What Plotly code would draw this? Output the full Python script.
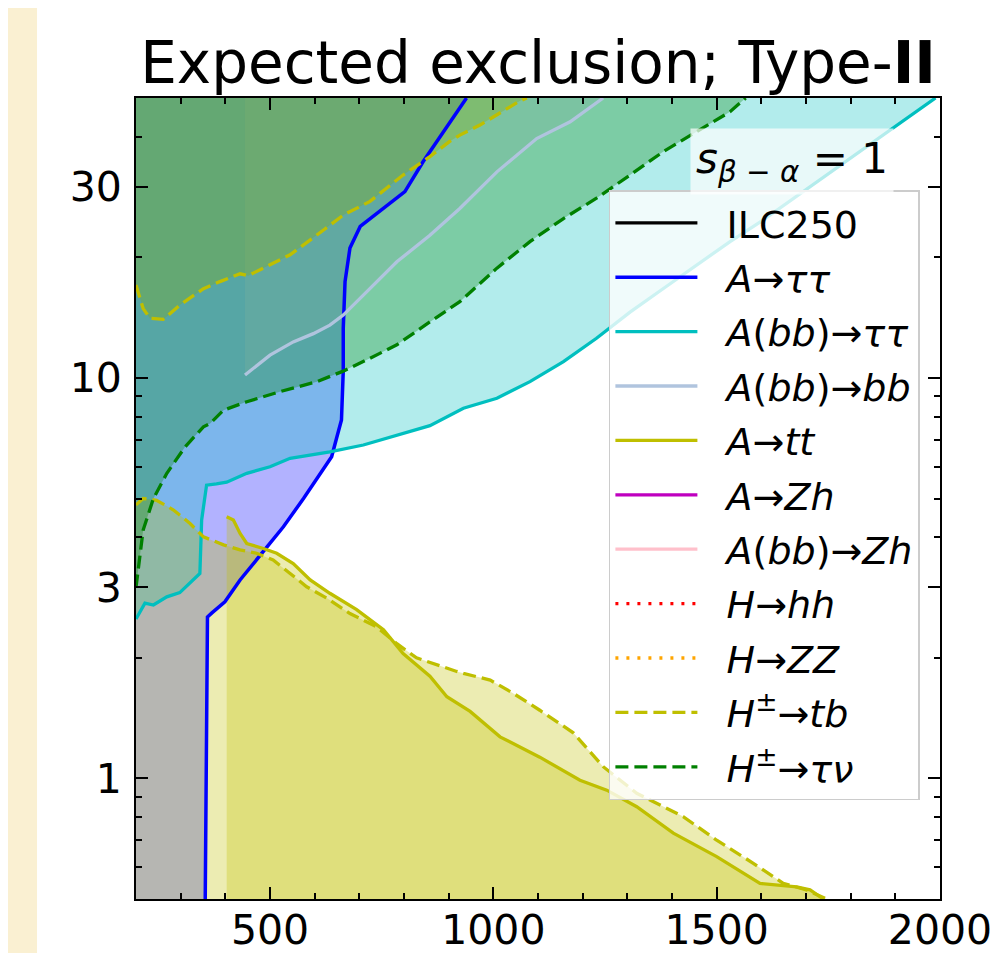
import plotly.graph_objects as go

# ---------------- data ----------------
# A -> tau tau (blue, region to the left of the curve is excluded)
att_m = [355, 360, 370, 399, 433, 485, 530, 575, 608, 638, 649, 660, 664, 664, 668, 679, 702, 754, 802, 843, 888, 925, 940]
att_t = [0.5, 2.53, 2.59, 2.76, 3.13, 3.68, 4.25, 5.0, 5.67, 6.36, 7.07, 7.85, 10.4, 13.3, 17.4, 21.1, 23.9, 26.5, 29.2, 34.7, 41.2, 47.1, 50]

# A(bb) -> tau tau (cyan, region above excluded)
abbtt_m = [200, 220, 239, 269, 298, 325, 343, 347, 358, 380, 403, 448, 500, 545, 590, 634, 709, 798, 858, 933, 1008, 1082, 1157, 1231, 1306, 1380, 1455, 1530, 1597, 1700, 1800, 1900, 1990]
abbtt_t = [2.5, 2.74, 2.71, 2.84, 2.91, 3.10, 3.25, 4.42, 5.40, 5.44, 5.49, 5.78, 6.0, 6.3, 6.42, 6.54, 6.80, 7.27, 7.6, 8.4, 8.9, 9.79, 10.98, 12.56, 14.6, 16.7, 19.1, 21.9, 24.5, 29.5, 35.5, 42.5, 50]

# A(bb) -> bb (lightsteelblue, region above excluded)
abbbb_m = [444, 500, 552, 597, 634, 664, 709, 784, 858, 925, 1008, 1097, 1172, 1246]
abbbb_t = [10.17, 11.4, 12.3, 12.9, 13.55, 14.35, 16.1, 19.5, 22.7, 26.5, 32.7, 39.6, 43.6, 50]

# A -> t t (olive, region below excluded)
atop_m = [403, 418, 433, 448, 485, 515, 552, 590, 634, 694, 754, 798, 858, 896, 948, 1015, 1104, 1194, 1254, 1321, 1403, 1500, 1597, 1679, 1709, 1739]
atop_t = [4.5, 4.42, 4.09, 3.86, 3.75, 3.65, 3.44, 3.13, 2.90, 2.64, 2.35, 2.05, 1.80, 1.6, 1.47, 1.27, 1.13, 0.99, 0.935, 0.85, 0.73, 0.638, 0.547, 0.536, 0.527, 0.5]

# H+- -> t b, low tan(beta) branch (region below excluded)
htb_lo_m = [200, 216, 246, 284, 321, 351, 396, 433, 470, 507, 545, 582, 627, 679, 739, 784, 828, 873, 918, 933, 993, 1045, 1104, 1179, 1246, 1321, 1425, 1500, 1582, 1649, 1701, 1746]
htb_lo_t = [4.82, 5.0, 4.95, 4.68, 4.33, 4.01, 3.83, 3.72, 3.65, 3.51, 3.25, 3.01, 2.82, 2.58, 2.39, 2.17, 2.0, 1.92, 1.85, 1.83, 1.76, 1.63, 1.48, 1.30, 1.07, 0.918, 0.803, 0.701, 0.614, 0.547, 0.527, 0.5]

# H+- -> t b, high tan(beta) branch (region above excluded)
htb_hi_m = [200, 216, 231, 261, 298, 351, 388, 433, 451, 485, 545, 604, 664, 724, 798, 858, 903, 925, 970, 1060, 1075]
htb_hi_t = [17.06, 14.9, 14.1, 14.0, 15.2, 16.7, 17.4, 18.2, 18.0, 18.8, 20.3, 22.7, 25.5, 27.6, 32.1, 35.7, 39.0, 40.4, 42.8, 49.2, 50]

# H+- -> tau nu (green, region above excluded)
htn_m = [200, 216, 239, 269, 310, 351, 366, 396, 448, 522, 605, 664, 724, 784, 858, 925, 1008, 1082, 1157, 1231, 1306, 1380, 1455, 1530, 1565]
htn_t = [3.0, 4.17, 5.0, 5.78, 6.73, 7.55, 7.7, 8.31, 8.72, 9.24, 9.79, 10.4, 11.2, 12.1, 13.8, 15.5, 18.8, 21.9, 25.0, 28.1, 32.1, 36.7, 41.2, 46.2, 50]

x_range = [200, 2000]
y_range = [0.5, 50]
x_major = [500, 1000, 1500, 2000]
x_minor = [300, 400, 600, 700, 800, 900, 1100, 1200, 1300, 1400, 1600, 1700, 1800, 1900]
y_major = [1, 3, 10, 30]
y_major_text = ["1", "3", "10", "30"]
y_minor = [0.6, 0.7, 0.8, 0.9, 2, 4, 5, 6, 7, 8, 9, 20, 40, 50]

FONT = "DejaVu Sans"
XMIN, XMAX = x_range
YMIN, YMAX = y_range
GAP = "\u00a0\u00a0"
DASHED = "13px,6px"
DOTTED = "3px,8px"

fig = go.Figure()


def fill_poly(xs, ys, color, name):
    fig.add_trace(go.Scatter(x=xs, y=ys, mode="lines", fill="toself", fillcolor=color,
                             line=dict(width=0, color="rgba(0,0,0,0)"), hoverinfo="skip",
                             showlegend=False, name=name))


def line(xs, ys, color, name, dash="solid", width=3.3, show=True):
    fig.add_trace(go.Scatter(x=xs, y=ys, mode="lines", name=GAP + name,
                             line=dict(color=color, width=width, dash=dash),
                             showlegend=show, legendgroup=name))


# ---- exclusion regions (filled first, in plotting order) ----
fill_poly(att_m + [XMIN, XMIN], att_t + [YMAX, YMIN], "rgba(0,0,255,0.3)", "A→ττ fill")
fill_poly(abbtt_m + [XMAX, XMIN], abbtt_t + [YMAX, YMAX], "rgba(0,191,191,0.3)", "A(bb)→ττ fill")
fill_poly(abbbb_m + [abbbb_m[0]], abbbb_t + [YMAX], "rgba(176,196,222,0.3)", "A(bb)→bb fill")
fill_poly(atop_m + [atop_m[0]], atop_t + [YMIN], "rgba(191,191,0,0.3)", "A→tt fill")
fill_poly(htb_lo_m + [XMIN], htb_lo_t + [YMIN], "rgba(191,191,0,0.3)", "H±→tb low fill")
fill_poly(htb_hi_m + [XMIN], htb_hi_t + [YMAX], "rgba(191,191,0,0.3)", "H±→tb high fill")
fill_poly(htn_m + [XMIN], htn_t + [YMAX], "rgba(0,128,0,0.3)", "H±→τν fill")

# ---- boundary lines (with legend entries) ----
line([None], [None], "black", "ILC250")
line(att_m, att_t, "#0000ff", "<i>A</i>→<i>ττ</i>", width=3.5)
line(abbtt_m, abbtt_t, "#00bfbf", "<i>A</i>(<i>bb</i>)→<i>ττ</i>")
line(abbbb_m, abbbb_t, "#b0c4de", "<i>A</i>(<i>bb</i>)→<i>bb</i>")
line(atop_m, atop_t, "#bfbf00", "<i>A</i>→<i>tt</i>")
line([None], [None], "#bf00bf", "<i>A</i>→<i>Zh</i>")
line([None], [None], "#ffc0cb", "<i>A</i>(<i>bb</i>)→<i>Zh</i>")
line([None], [None], "#ff0000", "<i>H</i>→<i>hh</i>", dash=DOTTED)
line([None], [None], "#ffa500", "<i>H</i>→<i>ZZ</i>", dash=DOTTED)
line(htb_lo_m, htb_lo_t, "#bfbf00", "<i>H</i><sup>±</sup>→<i>tb</i>", dash=DASHED)
line(htb_hi_m, htb_hi_t, "#bfbf00", "<i>H</i><sup>±</sup>→<i>tb</i>", dash=DASHED, show=False)
line(htn_m, htn_t, "#008000", "<i>H</i><sup>±</sup>→<i>τν</i>", dash=DASHED)

axis_common = dict(showline=True, linecolor="black", linewidth=2, mirror="allticks",
                   ticks="inside", ticklen=12, tickwidth=2, tickcolor="black",
                   showgrid=False, zeroline=False, automargin=False,
                   tickfont=dict(family=FONT, size=41, color="black"))

fig.update_xaxes(range=x_range, tickmode="array", tickvals=x_major,
                 minor=dict(tickmode="array", tickvals=x_minor, ticks="inside", ticklen=6,
                            tickwidth=2, tickcolor="black", showgrid=False),
                 ticklabelstandoff=-6, **axis_common)
fig.update_yaxes(type="log", range=[-0.30103, 1.69897], tickmode="array",
                 tickvals=y_major, ticktext=y_major_text,
                 minor=dict(tickmode="array", tickvals=y_minor, ticks="inside", ticklen=6,
                            tickwidth=2, tickcolor="black", showgrid=False),
                 ticklabelstandoff=4, **axis_common)

fig.add_annotation(xref="paper", yref="paper", x=0.689, y=0.962, xanchor="left", yanchor="top",
                   text="<i>s</i><sub><i>β</i> − <i>α</i></sub> = 1", showarrow=False,
                   font=dict(family=FONT, size=42, color="black"),
                   bgcolor="rgba(255,255,255,0.7)", borderpad=5, align="left")

fig.add_shape(type="rect", xref="paper", yref="paper", x0=-0.1231, x1=1.1, y0=-0.1, y1=1.13,
              fillcolor="white", line=dict(width=0), layer="below")

fig.update_layout(
    width=988, height=945,
    margin=dict(l=128, r=56, t=90, b=54, autoexpand=False),
    paper_bgcolor="#faf0d2", plot_bgcolor="white",
    font=dict(family=FONT, color="black"),
    title=dict(text="Expected exclusion; Type-<b>II</b>", x=0.5, xref="paper", xanchor="center",
               y=1 - 55 / 945, yref="container", yanchor="middle",
               font=dict(family=FONT, size=58, color="black")),
    legend=dict(x=0.975, y=0.885, xanchor="right", yanchor="top",
                bgcolor="rgba(255,255,255,0.8)", bordercolor="#cccccc", borderwidth=1.5,
                font=dict(family=FONT, size=38, color="black"), itemwidth=82,
                tracegroupgap=2, traceorder="grouped"),
)

fig.write_html("out.html")
